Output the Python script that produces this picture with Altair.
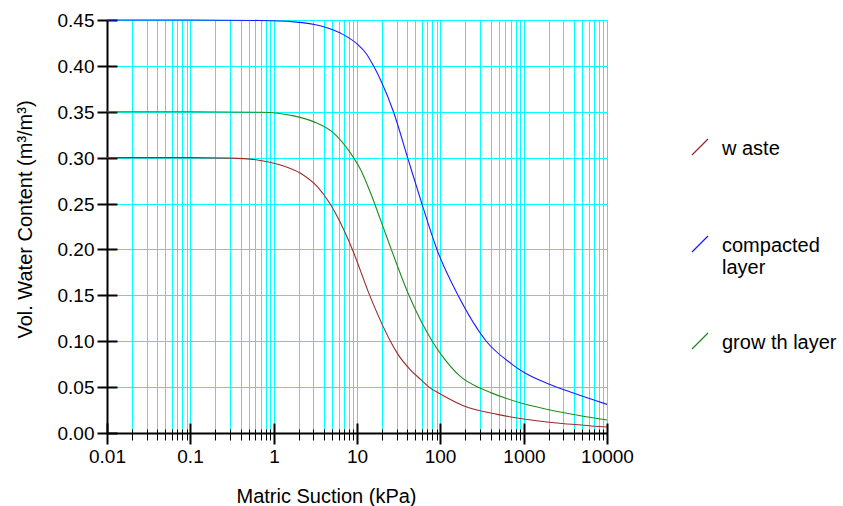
import altair as alt
import pandas as pd

# ---- data ----
series_names = ["w aste", "compacted layer", "grow th layer"]
series_colors = ["#9B2B2B", "#1A1AFF", "#1E8C1E"]

suction_waste = [0.01, 0.1, 0.3, 0.7, 1.21, 2.1, 3.34, 4.73, 6.37, 8.8, 14.2, 25.2,
                 30.5, 44, 58, 73, 100, 192, 483, 1000, 2540, 10000]
theta_waste = [0.300, 0.300, 0.2995, 0.297, 0.292, 0.283, 0.2684, 0.250, 0.2285, 0.200,
               0.150, 0.100, 0.0868, 0.0686, 0.0584, 0.050, 0.0425, 0.0295, 0.0203,
               0.0152, 0.0109, 0.0065]

suction_compacted = [0.01, 0.1, 0.7, 1.75, 3.7, 6.4, 10, 13, 16, 19.2, 27.4, 40.5, 60,
                     91, 163, 356, 700, 1050, 1923, 4020, 10000]
theta_compacted = [0.450, 0.450, 0.4495, 0.448, 0.4435, 0.4355, 0.424, 0.413, 0.399,
                   0.3846, 0.350, 0.300, 0.250, 0.200, 0.150, 0.100, 0.0759, 0.065,
                   0.054, 0.0433, 0.0312]

suction_growth = [0.01, 0.1, 0.7, 1.75, 3.05, 5.3, 8.4, 11.1, 14.6, 19.2, 25.8, 42, 80,
                  100, 175, 299, 402, 625, 1000, 2540, 10000]
theta_growth = [0.350, 0.350, 0.3495, 0.3455, 0.339, 0.3265, 0.3047, 0.2866, 0.2612,
                0.232, 0.200, 0.150, 0.100, 0.0868, 0.0615, 0.049, 0.044, 0.0375,
                0.0318, 0.0235, 0.0142]

decade_ticks = [0.01, 0.1, 1, 10, 100, 1000, 10000]
minor_ticks = [0.02, 0.03, 0.04, 0.05, 0.06, 0.07, 0.08, 0.09,
               0.2, 0.3, 0.4, 0.5, 0.6, 0.7, 0.8, 0.9,
               2, 3, 4, 5, 6, 7, 8, 9,
               20, 30, 40, 50, 60, 70, 80, 90,
               200, 300, 400, 500, 600, 700, 800, 900,
               2000, 3000, 4000, 5000, 6000, 7000, 8000, 9000]
y_ticks = [0.0, 0.05, 0.10, 0.15, 0.20, 0.25, 0.30, 0.35, 0.40, 0.45]

# ---- table ----
rows = []
for name, xs, ys in [(series_names[0], suction_waste, theta_waste),
                     (series_names[1], suction_compacted, theta_compacted),
                     (series_names[2], suction_growth, theta_growth)]:
    for i, (a, b) in enumerate(zip(xs, ys)):
        rows.append({"series": name, "suction": a, "theta": b, "order": i})
df = pd.DataFrame(rows)

FONT = "Liberation Sans"
CYAN = "#00FFFF"
grid_x_values = sorted(minor_ticks + decade_ticks[1:])
grid_y_values = y_ticks[1:]

# rounded scales for the guides (crisp 1px grid), unrounded for the curves
xscale_r = alt.Scale(type="log", domain=[0.01, 10000], nice=False, round=True)
yscale_r = alt.Scale(domain=[0, 0.45], nice=False, zero=False, round=True)
xscale = alt.Scale(type="log", domain=[0.01, 10000], nice=False)
yscale = alt.Scale(domain=[0, 0.45], nice=False, zero=False)

# grid axes: cyan grid + outer part of the minor ticks
grid_x_axis = alt.Axis(
    orient="bottom", values=grid_x_values, tickSize=7, tickWidth=1, tickColor="black",
    domain=False, labels=False, grid=True, gridColor=CYAN, gridWidth=1, gridOpacity=1,
    title=None,
)
grid_y_axis = alt.Axis(
    orient="left", values=grid_y_values, ticks=False, domain=False, labels=False,
    grid=True, gridColor=CYAN, gridWidth=1, gridOpacity=1, title=None,
)

# main axes: labels, titles, outer part of the major ticks
main_x_axis = alt.Axis(
    orient="bottom", values=decade_ticks, format="~g",
    tickSize=11, tickWidth=2, tickColor="black",
    domainColor="black", domainWidth=2, grid=False,
    labelFont=FONT, labelFontSize=19, labelColor="black", labelPadding=3,
    labelFlush=False, labelOverlap=False,
    title="Matric Suction (kPa)", titleFont=FONT, titleFontSize=20,
    titleFontWeight="normal", titleColor="black",
    titleX=219, titleY=69, titleBaseline="alphabetic", titleAlign="center",
)
main_y_axis = alt.Axis(
    orient="left", values=y_ticks, format=".2f",
    tickSize=10, tickWidth=2, tickColor="black",
    domainColor="black", domainWidth=2, grid=False,
    labelFont=FONT, labelFontSize=19, labelColor="black", labelPadding=3,
    labelFlush=False, labelOverlap=False,
    title="Vol. Water Content (m³/m³)", titleFont=FONT, titleFontSize=20,
    titleFontWeight="normal", titleColor="black",
    titleX=-76, titleY=199, titleAngle=270, titleBaseline="alphabetic", titleAlign="center",
)

# inner parts of the ticks (ticks cross the axis lines)
inner_x_major = alt.Axis(
    orient="bottom", offset=-10, values=decade_ticks, tickSize=10, tickWidth=2,
    tickColor="black", domain=False, labels=False, grid=False, title=None,
)
inner_x_minor = alt.Axis(
    orient="bottom", offset=-4, values=minor_ticks, tickSize=4, tickWidth=1,
    tickColor="black", domain=False, labels=False, grid=False, title=None,
)
inner_y = alt.Axis(
    orient="left", offset=-10, values=y_ticks, tickSize=10, tickWidth=2,
    tickColor="black", domain=False, labels=False, grid=False, title=None,
)

base = alt.Chart(df)


def guide_layer(xaxis, yaxis):
    return base.mark_line(opacity=0).encode(
        x=alt.X("suction:Q", scale=xscale_r, axis=xaxis),
        y=alt.Y("theta:Q", scale=yscale_r, axis=yaxis),
        detail="series:N",
    )


grid_layer = guide_layer(grid_x_axis, grid_y_axis)
main_layer = guide_layer(main_x_axis, main_y_axis)
major_layer = guide_layer(inner_x_major, inner_y)
minor_layer = guide_layer(inner_x_minor, None)

lines = base.mark_line(strokeWidth=1.1, interpolate="monotone").encode(
    x=alt.X("suction:Q", scale=xscale, axis=None),
    y=alt.Y("theta:Q", scale=yscale, axis=None),
    order="order:Q",
    color=alt.Color(
        "series:N",
        scale=alt.Scale(domain=series_names, range=series_colors),
        legend=alt.Legend(
            title=None, orient="none", legendX=583, legendY=109, padding=0,
            symbolType="M-1,2L1,0", symbolSize=256, symbolStrokeWidth=1.2,
            labelFont=FONT, labelFontSize=20, labelColor="black",
            labelBaseline="top", labelOffset=12, labelLimit=300,
            labelExpr="datum.label == 'compacted layer' ? ['compacted', 'layer'] : [datum.label, '']",
            rowPadding=45,
        ),
    ),
)

chart = (
    alt.layer(grid_layer, main_layer, major_layer, minor_layer, lines)
    .resolve_scale(x="independent", y="independent")
    .resolve_axis(x="independent", y="independent")
    .properties(
        width=500, height=413,
        padding={"left": 107, "top": 20, "right": 236, "bottom": 73},
        autosize=alt.AutoSizeParams(type="none"),
        background="white",
    )
    .configure_view(stroke=None)
    .configure_axis(gridColor=CYAN)
)

chart.save("out.html", embed_options={"renderer": "svg", "actions": False})
